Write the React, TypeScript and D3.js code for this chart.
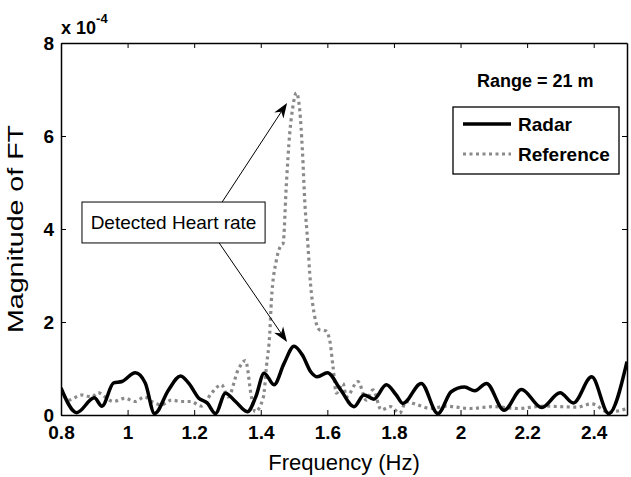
import * as d3 from "d3";
import React, { useEffect, useRef } from "react";

// values, magnitudes in units of 1e-4
const radarFreq = [0.8, 0.847, 0.9, 0.923, 0.958, 0.983, 1.023, 1.053, 1.081, 1.123, 1.159, 1.184, 1.214, 1.239, 1.264, 1.294, 1.324, 1.36, 1.385, 1.41, 1.44, 1.47, 1.5, 1.525, 1.55, 1.57, 1.6, 1.64, 1.68, 1.71, 1.74, 1.777, 1.807, 1.827, 1.882, 1.932, 1.972, 2.012, 2.043, 2.078, 2.131, 2.183, 2.244, 2.299, 2.339, 2.394, 2.445, 2.5];
const radarMag = [0.58, 0.05, 0.37, 0.19, 0.69, 0.72, 0.91, 0.69, 0.03, 0.54, 0.84, 0.68, 0.36, 0.26, 0.03, 0.47, 0.29, 0.07, 0.39, 0.9, 0.65, 1.11, 1.48, 1.29, 0.93, 0.82, 0.91, 0.54, 0.18, 0.43, 0.34, 0.65, 0.43, 0.25, 0.68, 0.03, 0.5, 0.6, 0.52, 0.68, 0.1, 0.55, 0.16, 0.48, 0.26, 0.82, 0.03, 1.15];

const refFreq = [0.8, 0.822, 0.862, 0.892, 0.912, 0.932, 0.957, 0.992, 1.022, 1.052, 1.072, 1.102, 1.132, 1.162, 1.19, 1.222, 1.252, 1.282, 1.302, 1.332, 1.354, 1.372, 1.383, 1.408, 1.417, 1.427, 1.432, 1.447, 1.462, 1.467, 1.477, 1.487, 1.495, 1.507, 1.517, 1.525, 1.532, 1.542, 1.547, 1.557, 1.577, 1.595, 1.607, 1.617, 1.627, 1.647, 1.657, 1.692, 1.717, 1.737, 1.762, 1.79, 1.817, 1.837, 1.87, 1.91, 1.957, 2.03, 2.1, 2.17, 2.25, 2.35, 2.394, 2.445, 2.5];
const refMag = [0.54, 0.32, 0.43, 0.39, 0.48, 0.39, 0.29, 0.36, 0.29, 0.39, 0.29, 0.22, 0.32, 0.29, 0.29, 0.19, 0.47, 0.65, 0.39, 0.97, 1.17, 0.39, 0.07, 0.39, 1.04, 1.76, 2.47, 3.33, 3.66, 3.69, 4.98, 6.06, 6.56, 6.93, 6.56, 5.7, 4.62, 3.62, 3.05, 2.33, 1.83, 1.81, 1.61, 1.04, 0.47, 0.68, 0.39, 0.72, 0.32, 0.54, 0.11, 0.18, 0.04, 0.29, 0.22, 0.14, 0.19, 0.14, 0.18, 0.14, 0.19, 0.17, 0.24, 0.06, 0.14];

const xTicks = [0.8, 1, 1.2, 1.4, 1.6, 1.8, 2, 2.2, 2.4];
const yTicks = [0, 2, 4, 6, 8];

const font = "'Liberation Sans', Arial, sans-serif";

const App = () => {
  const ref = useRef<SVGSVGElement>(null);

  useEffect(() => {
    const width = 631;
    const height = 477;
    const margin = { top: 43, right: 4, bottom: 62, left: 61 };
    const iw = width - margin.left - margin.right;
    const ih = height - margin.top - margin.bottom;

    const root = d3.select(ref.current);
    root.selectAll("*").remove();
    root.append("rect").attr("width", width).attr("height", height).attr("fill", "#fff");

    const svg = root.append("g").attr("transform", `translate(${margin.left},${margin.top})`);

    const x = d3.scaleLinear().domain([0.8, 2.5]).range([0, iw]);
    const y = d3.scaleLinear().domain([0, 8]).range([ih, 0]);

    svg.append("clipPath").attr("id", "plotclip")
      .append("rect").attr("width", iw).attr("height", ih);

    const line = d3.line<[number, number]>()
      .x((d) => x(d[0]))
      .y((d) => y(d[1]))
      .curve(d3.curveMonotoneX);

    const radar = radarFreq.map((f, i) => [f, radarMag[i]] as [number, number]);
    const refer = refFreq.map((f, i) => [f, refMag[i]] as [number, number]);

    svg.append("path")
      .datum(refer)
      .attr("clip-path", "url(#plotclip)")
      .attr("fill", "none")
      .attr("stroke", "#8a8a8a")
      .attr("stroke-width", 3.2)
      .attr("stroke-dasharray", "3,3.5")
      .attr("d", line);

    svg.append("path")
      .datum(radar)
      .attr("clip-path", "url(#plotclip)")
      .attr("fill", "none")
      .attr("stroke", "#000")
      .attr("stroke-width", 3.5)
      .attr("stroke-linejoin", "round")
      .attr("d", line);

    // axes, MATLAB style: inward ticks on all four sides
    const styleAxis = (g, labels) => {
      g.select(".domain").attr("stroke", "#000").attr("stroke-width", 1.5);
      g.selectAll(".tick line").attr("stroke", "#000").attr("stroke-width", 1);
      g.selectAll(".tick text")
        .attr("fill", "#000")
        .style("font-family", font)
        .style("font-size", "19px")
        .style("font-weight", "bold")
        .style("display", labels ? null : "none");
    };

    svg.append("g")
      .attr("transform", `translate(0,${ih})`)
      .call(d3.axisBottom(x).tickValues(xTicks).tickSize(-5).tickSizeOuter(0).tickPadding(11).tickFormat(d3.format("")))
      .call((g) => styleAxis(g, true));
    svg.append("g")
      .call(d3.axisTop(x).tickValues(xTicks).tickSize(-5).tickSizeOuter(0))
      .call((g) => styleAxis(g, false));
    svg.append("g")
      .call(d3.axisLeft(y).tickValues(yTicks).tickSize(-5).tickSizeOuter(0).tickPadding(7))
      .call((g) => styleAxis(g, true));
    svg.append("g")
      .attr("transform", `translate(${iw},0)`)
      .call(d3.axisRight(y).tickValues(yTicks).tickSize(-5).tickSizeOuter(0))
      .call((g) => styleAxis(g, false));

    // exponent
    const expo = svg.append("text")
      .attr("x", 0)
      .attr("y", -9)
      .style("font-family", font)
      .style("font-size", "18px")
      .style("font-weight", "bold");
    expo.append("tspan").text("x 10");
    expo.append("tspan").attr("dy", -11).style("font-size", "13px").text("-4");

    // axis titles
    svg.append("text")
      .attr("x", iw / 2)
      .attr("y", ih + 55)
      .attr("text-anchor", "middle")
      .style("font-family", font)
      .style("font-size", "22px")
      .text("Frequency (Hz)");

    svg.append("text")
      .attr("transform", `translate(${-38},${ih / 2}) rotate(-90) scale(1.3,1)`)
      .attr("text-anchor", "middle")
      .style("font-family", font)
      .style("font-size", "22px")
      .text("Magnitude of FT");

    // range note
    svg.append("text")
      .attr("x", 416)
      .attr("y", 44)
      .style("font-family", font)
      .style("font-size", "18px")
      .style("font-weight", "bold")
      .text("Range = 21 m");

    // legend
    const lg = svg.append("g").attr("transform", "translate(392,64)");
    lg.append("rect")
      .attr("width", 166)
      .attr("height", 67)
      .attr("fill", "#fff")
      .attr("stroke", "#000")
      .attr("stroke-width", 1.3);
    const items = [
      { name: "Radar", color: "#000", dash: null, w: 3.5 },
      { name: "Reference", color: "#8a8a8a", dash: "3,3.5", w: 3.2 },
    ];
    items.forEach((it, i) => {
      const cy = 17 + i * 30;
      lg.append("line")
        .attr("x1", 10).attr("x2", 58)
        .attr("y1", cy).attr("y2", cy)
        .attr("stroke", it.color)
        .attr("stroke-width", it.w)
        .attr("stroke-dasharray", it.dash);
      lg.append("text")
        .attr("x", 65)
        .attr("y", cy + 7)
        .style("font-family", font)
        .style("font-size", "19px")
        .style("font-weight", "bold")
        .text(it.name);
    });

    // annotation: text box with two arrows
    const box = { f0: 0.863, f1: 1.413, v0: 4.58, v1: 3.7 };
    const bx = x(box.f0), by = y(box.v0);
    const bw = x(box.f1) - bx, bh = y(box.v1) - by;
    svg.append("rect")
      .attr("x", bx).attr("y", by)
      .attr("width", bw).attr("height", bh)
      .attr("fill", "#fff")
      .attr("stroke", "#000")
      .attr("stroke-width", 1);
    svg.append("text")
      .attr("x", bx + bw / 2)
      .attr("y", by + bh / 2 + 7)
      .attr("text-anchor", "middle")
      .style("font-family", font)
      .style("font-size", "19px")
      .text("Detected Heart rate");

    const arrows = [
      { from: [1.284, 4.58], to: [1.479, 6.71] },
      { from: [1.275, 3.7], to: [1.479, 1.57] },
    ];
    arrows.forEach((a) => {
      const x0 = x(a.from[0]), y0 = y(a.from[1]);
      const x1 = x(a.to[0]), y1 = y(a.to[1]);
      const ang = Math.atan2(y1 - y0, x1 - x0);
      const L = 15, Wd = 5.5;
      const bxp = x1 - L * Math.cos(ang), byp = y1 - L * Math.sin(ang);
      const ix = x1 - L * 0.7 * Math.cos(ang), iy = y1 - L * 0.7 * Math.sin(ang);
      const px = -Math.sin(ang), py = Math.cos(ang);
      svg.append("line")
        .attr("x1", x0).attr("y1", y0)
        .attr("x2", ix).attr("y2", iy)
        .attr("stroke", "#000")
        .attr("stroke-width", 1);
      svg.append("path")
        .attr("d", `M${x1},${y1}L${bxp + px * Wd},${byp + py * Wd}L${ix},${iy}L${bxp - px * Wd},${byp - py * Wd}Z`)
        .attr("fill", "#000");
    });
  }, []);

  return (
    <svg
      ref={ref}
      width={631}
      height={477}
      style={{ position: "absolute", left: 0, top: 0 }}
    ></svg>
  );
};

export default App;
